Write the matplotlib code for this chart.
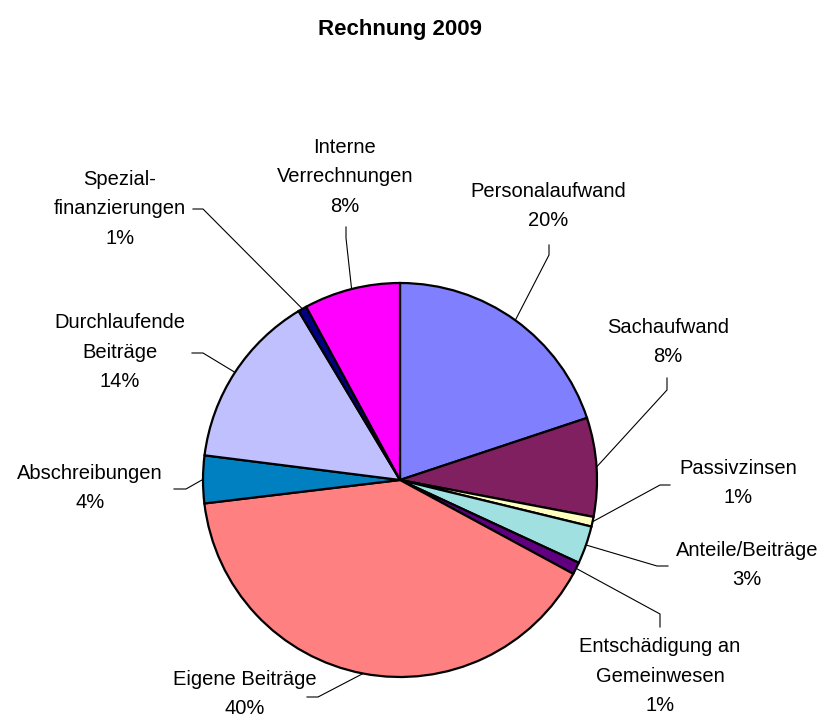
import numpy as np
import matplotlib
matplotlib.use('Agg')
import matplotlib.pyplot as plt

# Rechnung 2009, Anteile in Prozent
labels = ['Personalaufwand', 'Sachaufwand', 'Passivzinsen', 'Anteile/Beiträge',
          'Entschädigung an\nGemeinwesen', 'Eigene Beiträge', 'Abschreibungen',
          'Durchlaufende\nBeiträge', 'Spezial-\nfinanzierungen', 'Interne\nVerrechnungen']
shares = [19.9, 8.1, 0.8, 3.1, 1.0, 40.2, 3.9, 14.4, 0.7, 7.9]
colors = ['#8080FF', '#802060', '#FFFFC0', '#A0E0E0', '#600080',
          '#FF8080', '#0080C0', '#C0C0FF', '#000080', '#FF00FF']

W, H = 824, 718
center = (400, 480)
radius = 197

# label centre and the two leader points next to the text (pixel coords, y down)
label_pos = [(548, 206), (668, 342), (738, 483), (747, 565), (660, 676),
             (245, 694), (90, 488), (120, 352), (120, 209), (345, 177)]
leader = [[(549, 255), (549, 245)],
          [(667, 390), (667, 378)],
          [(660, 485), (670, 485)],
          [(657, 566), (668, 566)],
          [(660, 614), (660, 627)],
          [(318, 697), (307, 697)],
          [(186, 489), (174, 489)],
          [(203, 353), (192, 353)],
          [(203, 209), (193, 209)],
          [(346, 238), (346, 227)]]

plt.rcParams['font.family'] = ['Liberation Sans', 'DejaVu Sans']

fig = plt.figure(figsize=(W / 100, H / 100), dpi=100)
ax = fig.add_axes([0, 0, 1, 1])


def fy(y):
    return H - y


wedges, _ = ax.pie(shares, colors=colors, startangle=90, counterclock=False,
                   center=(center[0], fy(center[1])), radius=radius,
                   wedgeprops=dict(edgecolor='black', linewidth=1.6),
                   frame=True)
ax.set_xlim(0, W)
ax.set_ylim(0, H)
ax.set_aspect('equal')
ax.axis('off')

for w, lab, val, pos, pts in zip(wedges, labels, shares, label_pos, leader):
    mid = np.deg2rad((w.theta1 + w.theta2) / 2)
    rim = (center[0] + radius * np.cos(mid), fy(center[1]) + radius * np.sin(mid))
    xs = [rim[0]] + [p[0] for p in pts]
    ys = [rim[1]] + [fy(p[1]) for p in pts]
    ax.plot(xs, ys, color='black', lw=0.8)
    ax.text(pos[0], fy(pos[1]), '{}\n{:.0f}%'.format(lab, val), ha='center', va='center',
            fontsize=14.5, linespacing=1.7)

fig.text(400 / W, 1 - 30 / H, 'Rechnung 2009', ha='center', va='center',
         fontsize=16, fontweight='bold')

fig.savefig('out.png', dpi=100, facecolor='white')
